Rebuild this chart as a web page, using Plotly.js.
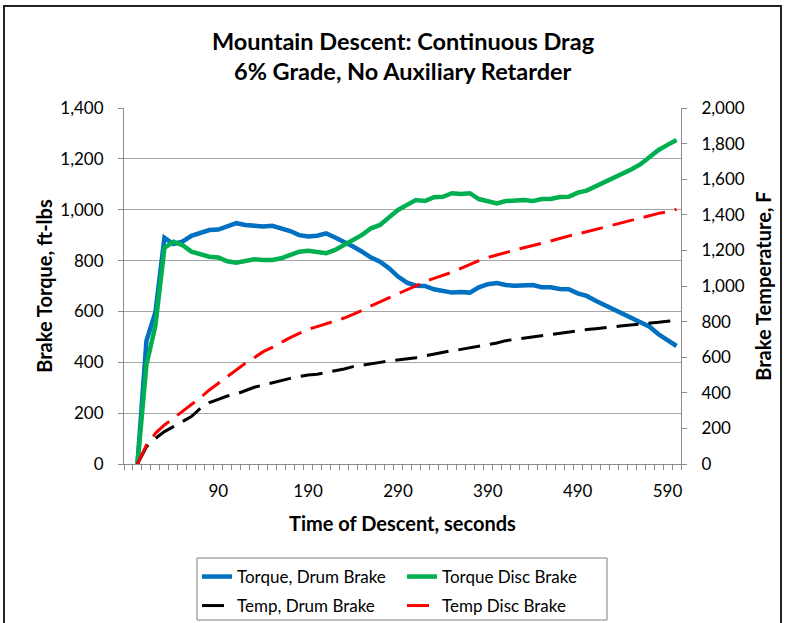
<!DOCTYPE html>
<html>
<head>
<meta charset="utf-8">
<script src="https://cdn.plot.ly/plotly-3.0.1.min.js"></script>
<style>
  html, body { margin: 0; padding: 0; background: #ffffff; }
  #chart { width: 785px; height: 623px; }
</style>
</head>
<body>
<div id="chart"></div>
<script>
// Time of descent, seconds (categories)
const timeSec = [0, 10, 20, 30, 40, 50, 60, 70, 80, 90,
  100, 110, 120, 130, 140, 150, 160, 170, 180, 190,
  200, 210, 220, 230, 240, 250, 260, 270, 280, 290,
  300, 310, 320, 330, 340, 350, 360, 370, 380, 390,
  400, 410, 420, 430, 440, 450, 460, 470, 480, 490,
  500, 510, 520, 530, 540, 550, 560, 570, 580, 590, 600];

// Brake torque, ft-lbs (left axis)
const torqueDrum = [0, 485, 597, 890, 865, 874, 897, 910, 920, 922,
  936, 947, 940, 935, 934, 937, 927, 916, 900, 895,
  898, 907, 891, 874, 855, 835, 812, 796, 770, 737,
  713, 701, 700, 687, 682, 674, 676, 674, 695, 707,
  712, 704, 701, 701, 704, 695, 695, 688, 687, 671,
  661, 642, 625, 608, 593, 577, 560, 540, 510, 488, 464];

const torqueDisc = [0, 390, 545, 850, 874, 861, 835, 825, 815, 812,
  797, 792, 797, 805, 802, 802, 809, 822, 835, 839,
  835, 829, 842, 861, 881, 901, 927, 940, 970, 999,
  1019, 1038, 1034, 1049, 1051, 1065, 1062, 1065, 1042, 1032,
  1025, 1034, 1038, 1038, 1034, 1042, 1042, 1050, 1051, 1067,
  1075, 1091, 1108, 1126, 1143, 1159, 1179, 1206, 1235, 1255, 1274];

// Brake temperature, F (right axis)
const tempDrum = [0, 97, 144, 182, 210, 238, 266, 313, 345, 363,
  382, 393, 412, 431, 444, 457, 468, 481, 491, 500,
  504, 513, 524, 534, 547, 556, 566, 571, 579, 584,
  588, 597, 607, 618, 627, 637, 644, 653, 659, 669,
  680, 693, 700, 710, 715, 723, 730, 736, 743, 749,
  755, 760, 764, 771, 777, 781, 787, 790, 796, 802, 807];

const tempDisc = [0, 107, 172, 219, 257, 294, 331, 373, 416, 453,
  491, 528, 566, 597, 631, 655, 684, 710, 734, 757,
  772, 787, 803, 820, 840, 862, 889, 912, 934, 959,
  981, 1002, 1024, 1043, 1058, 1077, 1099, 1122, 1142, 1160,
  1175, 1190, 1202, 1215, 1226, 1240, 1253, 1268, 1281, 1292,
  1305, 1318, 1333, 1346, 1358, 1371, 1386, 1399, 1408, 1417, 1431];

const xTickVals = [90, 190, 290, 390, 490, 590];
const xTickText = ['90', '190', '290', '390', '490', '590'];

const seriesNames = ['Torque, Drum Brake', 'Torque Disc Brake', 'Temp, Drum Brake', 'Temp Disc Brake'];

const FONT = 'Lato, "Open Sans", sans-serif';

const traces = [
  { x: timeSec, y: torqueDrum, name: seriesNames[0], type: 'scatter', mode: 'lines',
    line: { color: '#0070C0', width: 4.5 }, yaxis: 'y', legend: 'legend' },
  { x: timeSec, y: torqueDisc, name: seriesNames[1], type: 'scatter', mode: 'lines',
    line: { color: '#00B050', width: 4.5 }, yaxis: 'y', legend: 'legend' },
  { x: timeSec, y: tempDrum, name: seriesNames[2], type: 'scatter', mode: 'lines',
    line: { color: '#000000', width: 3, dash: '22px,10px' }, yaxis: 'y2', legend: 'legend2' },
  { x: timeSec, y: tempDisc, name: seriesNames[3], type: 'scatter', mode: 'lines',
    line: { color: '#FF0000', width: 3, dash: '22px,10px' }, yaxis: 'y2', legend: 'legend2' }
];

// plot area: x 124..681 px, y 108..464 px
const PW = 557, PH = 356, L = 124, T = 108;
function px(x) { return (x - L) / PW; }
function py(y) { return (T + PH - y) / PH; }

const legendCommon = {
  orientation: 'h', xanchor: 'left', yanchor: 'middle',
  borderwidth: 0, bgcolor: 'rgba(0,0,0,0)',
  entrywidth: 160, entrywidthmode: 'pixels',
  font: { family: FONT, size: 17, color: '#000000' },
  traceorder: 'normal'
};

const layout = {
  width: 785, height: 623,
  margin: { l: 124, r: 104, t: 108, b: 159, autoexpand: false },
  paper_bgcolor: '#ffffff', plot_bgcolor: '#ffffff',
  font: { family: FONT, color: '#000000', size: 17 },
  showlegend: true,
  annotations: [
    { text: '<b>Mountain Descent: Continuous Drag</b>', xref: 'paper', yref: 'paper',
      x: px(403), y: py(41), xanchor: 'center', yanchor: 'middle', showarrow: false,
      font: { family: FONT, size: 23.5, color: '#000000' } },
    { text: '<b>6% Grade, No Auxiliary Retarder</b>', xref: 'paper', yref: 'paper',
      x: px(403), y: py(71), xanchor: 'center', yanchor: 'middle', showarrow: false,
      font: { family: FONT, size: 23.5, color: '#000000' } }
  ],
  xaxis: {
    range: [-15, 605],
    tickmode: 'array', tickvals: xTickVals, ticktext: xTickText,
    ticks: '', showgrid: false, zeroline: false,
    showline: true, linecolor: '#8c8c8c', linewidth: 1,
    ticklabelstandoff: 12,
    tickfont: { family: FONT, size: 17, color: '#000000' },
    minor: { tick0: 5, dtick: 10, ticks: 'outside', ticklen: 5, tickcolor: '#8c8c8c', tickwidth: 1, showgrid: false },
    title: { text: '<b>Time of Descent, seconds</b>', font: { family: FONT, size: 20, color: '#000000' }, standoff: 16 },
    automargin: false
  },
  yaxis: {
    range: [0, 1400], dtick: 200, tick0: 0, tickformat: ',',
    showgrid: true, gridcolor: '#a6a6a6', gridwidth: 1, zeroline: false,
    showline: true, linecolor: '#8c8c8c', linewidth: 1,
    ticks: 'outside', ticklen: 5, tickcolor: '#8c8c8c',
    ticklabelstandoff: 11,
    tickfont: { family: FONT, size: 17, color: '#000000' },
    title: { text: '<b>Brake Torque, ft-lbs</b>', font: { family: FONT, size: 20, color: '#000000' }, standoff: 2 },
    automargin: false
  },
  yaxis2: {
    range: [0, 2000], dtick: 200, tick0: 0, tickformat: ',',
    overlaying: 'y', side: 'right',
    showgrid: false, zeroline: false,
    showline: true, linecolor: '#8c8c8c', linewidth: 1,
    ticks: 'outside', ticklen: 5, tickcolor: '#8c8c8c',
    ticklabelstandoff: 11,
    tickfont: { family: FONT, size: 17, color: '#000000' },
    title: { text: '<b>Brake Temperature, F</b>', font: { family: FONT, size: 20, color: '#000000' }, standoff: 13 },
    automargin: false
  },
  legend: Object.assign({}, legendCommon, { x: px(197), y: py(577) }),
  legend2: Object.assign({}, legendCommon, { x: px(197), y: py(606) }),
  shapes: [
    { type: 'rect', xref: 'paper', yref: 'paper',
      x0: px(4), x1: px(781), y0: py(640), y1: py(6),
      line: { color: '#222222', width: 2 }, fillcolor: 'rgba(0,0,0,0)', layer: 'below' },
    { type: 'rect', xref: 'paper', yref: 'paper',
      x0: px(197), x1: px(607), y0: py(620), y1: py(558),
      line: { color: '#808080', width: 1 }, fillcolor: 'rgba(0,0,0,0)', layer: 'below' }
  ]
};

Plotly.newPlot('chart', traces, layout, { displayModeBar: false, staticPlot: true });
</script>
</body>
</html>
